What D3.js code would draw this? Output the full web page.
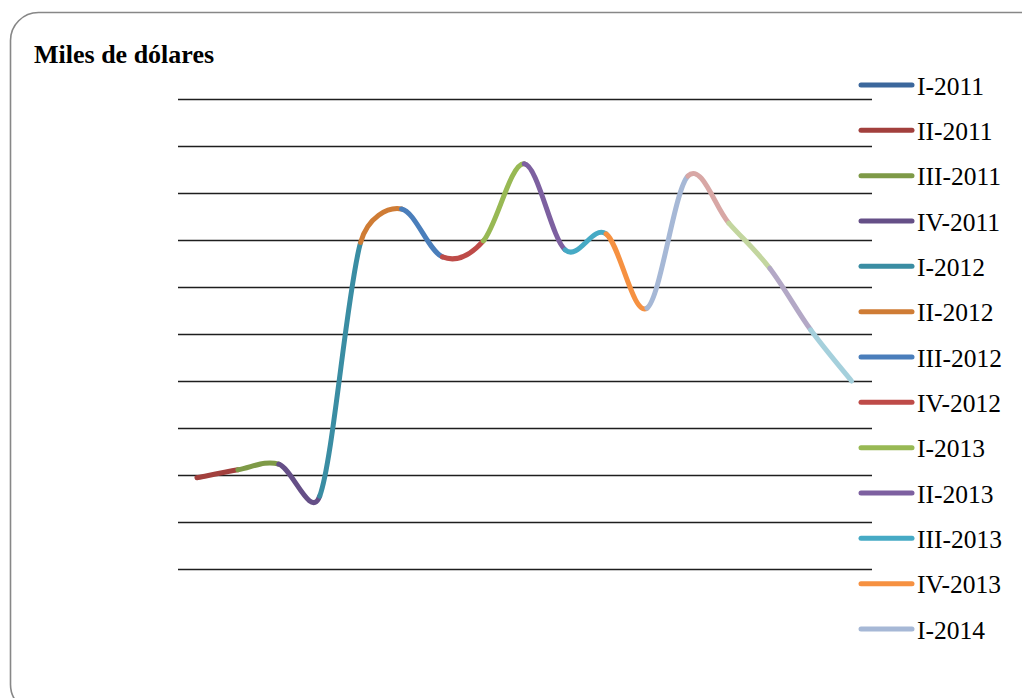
<!DOCTYPE html>
<html>
<head>
<meta charset="utf-8">
<script src="https://cdn.jsdelivr.net/npm/d3@7"></script>
<style>
  html, body { margin: 0; padding: 0; background: #ffffff; }
  svg { display: block; }
</style>
</head>
<body>
<svg id="chart" width="1022" height="698"></svg>
<script>
// Quarterly values, thousands of dollars (one point per quarter)
const quarters = ["I-2011", "II-2011", "III-2011", "IV-2011",
                  "I-2012", "II-2012", "III-2012", "IV-2012",
                  "I-2013", "II-2013", "III-2013", "IV-2013",
                  "I-2014", "II-2014", "III-2014", "IV-2014", "I-2015"];
const values = [1.94, 2.11, 2.23, 1.55,
                6.95, 7.66, 6.64, 6.98,
                8.62, 6.79, 7.13, 5.55,
                8.36, 7.36, 6.40, 5.09, 4.00];
const colors = ["#3b679c", "#a2403d", "#7e9a47", "#654f87",
                "#3a8da3", "#cf7c35", "#4a7ebb", "#be4b48",
                "#98b954", "#7d60a0", "#46aac5", "#f69141",
                "#a6b8d6", "#d8a7a5", "#c3d69f", "#b3a8c6", "#a5d0dc"];
// Only the first thirteen quarters fit in the legend box
const legendItems = quarters.slice(0, 13);
const yTicks = d3.range(0, 11);

const svg = d3.select("#chart");

// Rounded chart frame
svg.append("rect")
  .attr("x", 10.5).attr("y", 12.5)
  .attr("width", 1040).attr("height", 700)
  .attr("rx", 28).attr("ry", 28)
  .attr("fill", "#ffffff")
  .attr("stroke", "#878787")
  .attr("stroke-width", 1.6);

svg.append("text")
  .attr("x", 34).attr("y", 63)
  .attr("font-family", "'Liberation Serif', 'Times New Roman', serif")
  .attr("font-weight", "bold")
  .attr("font-size", 26)
  .attr("fill", "#000")
  .text("Miles de dólares");

const x = d3.scalePoint().domain(quarters).range([176.5, 872]).padding(0.5);
const y = d3.scaleLinear().domain([0, 10]).range([569, 99]);

// Horizontal gridlines
svg.append("g")
  .selectAll("line")
  .data(yTicks)
  .join("line")
  .attr("x1", 178).attr("x2", 872)
  .attr("y1", d => Math.round(y(d)) + 0.5)
  .attr("y2", d => Math.round(y(d)) + 0.5)
  .attr("stroke", "#1e1e1e")
  .attr("stroke-width", 1.6);

// Smoothed line, one coloured piece per quarter (piece ends at its quarter).
// Bezier handles follow the neighbours' chord, capped at half the piece length.
const pts = quarters.map((q, i) => [x(q), y(values[i])]);
const n = pts.length;
const dist = (a, b) => Math.hypot(b[0] - a[0], b[1] - a[1]);
function handle(from, a, b, segLen, sign) {
  const d = dist(a, b);
  if (d === 0) return from.slice();
  const len = Math.min(d / 6, segLen / 2);
  return [from[0] + sign * (b[0] - a[0]) / d * len,
          from[1] + sign * (b[1] - a[1]) / d * len];
}
const seg = svg.append("g")
  .attr("fill", "none")
  .attr("stroke-width", 5)
  .attr("stroke-linecap", "round");

for (let i = 1; i < n; i++) {
  const p0 = pts[Math.max(i - 2, 0)];
  const p1 = pts[i - 1];
  const p2 = pts[i];
  const p3 = pts[Math.min(i + 1, n - 1)];
  const L = dist(p1, p2);
  const c1 = handle(p1, p0, p2, L, 1);
  const c2 = handle(p2, p1, p3, L, -1);
  const path = d3.path();
  path.moveTo(p1[0], p1[1]);
  path.bezierCurveTo(c1[0], c1[1], c2[0], c2[1], p2[0], p2[1]);
  seg.append("path")
    .attr("d", path.toString())
    .attr("stroke", colors[i]);
}

// Legend
const legend = svg.append("g");
const rowY = d3.scaleLinear().domain([0, 12]).range([85, 629]);
const rows = legend.selectAll("g")
  .data(legendItems)
  .join("g")
  .attr("transform", (d, i) => `translate(0,${rowY(i)})`);
rows.append("line")
  .attr("x1", 861).attr("x2", 912)
  .attr("y1", 0).attr("y2", 0)
  .attr("stroke", (d, i) => colors[i])
  .attr("stroke-width", 5)
  .attr("stroke-linecap", "round");
rows.append("text")
  .attr("x", 917).attr("y", 9.5)
  .attr("font-family", "'Liberation Serif', 'Times New Roman', serif")
  .attr("font-size", 25.5)
  .attr("fill", "#000")
  .text(d => d);
</script>
</body>
</html>
